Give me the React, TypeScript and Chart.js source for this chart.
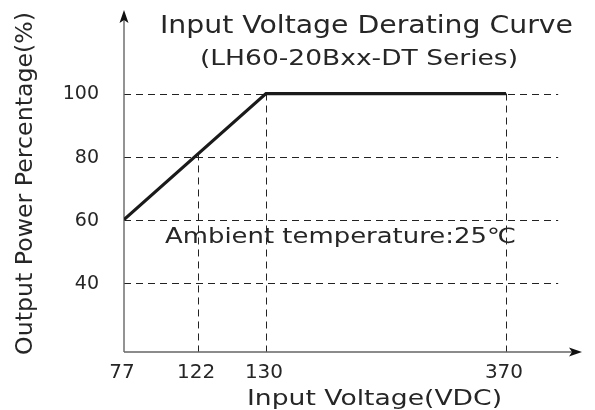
import React, { useEffect, useRef } from "react";
import { Chart, registerables } from "chart.js";

Chart.register(...registerables);

// Tick labels on the (schematic, non-linear) voltage axis and their axis positions
const xTickLabels = ["77", "122", "130", "370"];
const xTickPos = [0, 16.2, 31, 83.4];
const yTicks = [40, 60, 80, 100];
// Derating curve
const curveVoltage = ["77", "130", "370"];
const curvePower = [60, 100, 100];

const TITLE1 = "Input Voltage Derating Curve";
const TITLE2 = "(LH60-20Bxx-DT Series)";
const NOTE = "Ambient temperature:25\u2103";
const X_TITLE = "Input Voltage(VDC)";
const Y_TITLE = "Output Power Percentage(%)";

const FONT = '"DejaVu Sans", sans-serif';
const TEXT = "#262626";

const posOf = (v: string) => xTickPos[xTickLabels.indexOf(v)];

function fitText(ctx: CanvasRenderingContext2D, text: string, left: number, right: number, baseline: number, size: number) {
  ctx.save();
  ctx.font = `${size}px ${FONT}`;
  ctx.textAlign = "left";
  ctx.textBaseline = "alphabetic";
  const w = ctx.measureText(text).width;
  ctx.translate(left, baseline);
  ctx.scale((right - left) / w, 1);
  ctx.fillText(text, 0, 0);
  ctx.restore();
}

const decor = {
  id: "decor",
  beforeDatasetsDraw(chart: any) {
    const { ctx, scales } = chart;
    const xs = scales.x;
    const ys = scales.y;
    const x0 = xs.getPixelForValue(0);
    const y0 = ys.bottom;
    ctx.save();
    // horizontal dashed grid
    ctx.strokeStyle = "#222";
    ctx.lineWidth = 1;
    ctx.setLineDash([7, 5]);
    const gridEnd = xs.getPixelForValue(94.8);
    yTicks.forEach((t) => {
      const y = Math.round(ys.getPixelForValue(t)) + 0.5;
      ctx.beginPath();
      ctx.moveTo(x0, y);
      ctx.lineTo(gridEnd, y);
      ctx.stroke();
    });
    // vertical dashed lines up to the curve
    const cx = curveVoltage.map((v) => xs.getPixelForValue(posOf(v)));
    const cy = curvePower.map((p) => ys.getPixelForValue(p));
    xTickLabels.forEach((lab, i) => {
      if (i === 0) return;
      const x = Math.round(xs.getPixelForValue(xTickPos[i])) + 0.5;
      let top = cy[cy.length - 1];
      for (let k = 0; k < cx.length - 1; k++) {
        if (x >= cx[k] && x <= cx[k + 1]) {
          top = cy[k] + ((x - cx[k]) / (cx[k + 1] - cx[k])) * (cy[k + 1] - cy[k]);
        }
      }
      ctx.beginPath();
      ctx.moveTo(x, top);
      ctx.lineTo(x, y0);
      ctx.stroke();
    });
    ctx.setLineDash([]);
    // axes with arrows
    ctx.strokeStyle = "#666";
    ctx.lineWidth = 1.4;
    const ax = x0;
    const ay = y0;
    ctx.beginPath();
    ctx.moveTo(ax, ay);
    ctx.lineTo(ax, ys.top + 6);
    ctx.moveTo(ax, ay);
    ctx.lineTo(xs.right - 6, ay);
    ctx.stroke();
    ctx.fillStyle = "#111";
    ctx.beginPath();
    ctx.moveTo(ax, ys.top);
    ctx.lineTo(ax - 4.5, ys.top + 13);
    ctx.lineTo(ax, ys.top + 10);
    ctx.lineTo(ax + 4.5, ys.top + 13);
    ctx.closePath();
    ctx.fill();
    ctx.beginPath();
    ctx.moveTo(xs.right, ay);
    ctx.lineTo(xs.right - 13, ay - 4.5);
    ctx.lineTo(xs.right - 10, ay);
    ctx.lineTo(xs.right - 13, ay + 4.5);
    ctx.closePath();
    ctx.fill();

    // tick labels
    ctx.fillStyle = TEXT;
    ctx.textBaseline = "middle";
    ctx.font = `19px ${FONT}`;
    ctx.textAlign = "right";
    yTicks.forEach((t) => ctx.fillText(String(t), 99, ys.getPixelForValue(t) + 1));
    ctx.font = `20px ${FONT}`;
    ctx.textAlign = "center";
    xTickLabels.forEach((lab, i) => ctx.fillText(lab, xs.getPixelForValue(xTickPos[i]) - 2, 373));

    // titles and note
    fitText(ctx, TITLE1, 160, 573, 33, 24);
    fitText(ctx, TITLE2, 200, 518, 65, 22);
    fitText(ctx, NOTE, 165, 516, 243, 21);
    fitText(ctx, X_TITLE, 247, 502, 405, 22);
    ctx.save();
    ctx.translate(32, 355);
    ctx.rotate(-Math.PI / 2);
    fitText(ctx, Y_TITLE, 0, 343, 0, 23);
    ctx.restore();
    ctx.restore();
  },
};

export default function App() {
  const ref = useRef<HTMLCanvasElement>(null);
  useEffect(() => {
    if (!ref.current) return;
    const chart = new Chart(ref.current, {
      type: "line",
      data: {
        datasets: [
          {
            data: curveVoltage.map((v, i) => ({ x: posOf(v), y: curvePower[i] })),
            borderColor: "#1a1a1a",
            borderWidth: 3.2,
            pointRadius: 0,
            tension: 0,
            fill: false,
          },
        ],
      },
      options: {
        responsive: false,
        animation: false,
        events: [],
        layout: { padding: { left: 124, right: 13, top: 10, bottom: 58 } },
        plugins: { legend: { display: false }, tooltip: { enabled: false }, title: { display: false } },
        scales: {
          x: { type: "linear", min: 0, max: 100, display: false },
          y: { type: "linear", min: 18, max: 126.5, display: false },
        },
      },
      plugins: [decor],
    });
    return () => chart.destroy();
  }, []);
  return (
    <div style={{ position: "fixed", left: 0, top: 0, width: 595, height: 410, background: "#fff" }}>
      <canvas ref={ref} width={595} height={410} />
    </div>
  );
}
